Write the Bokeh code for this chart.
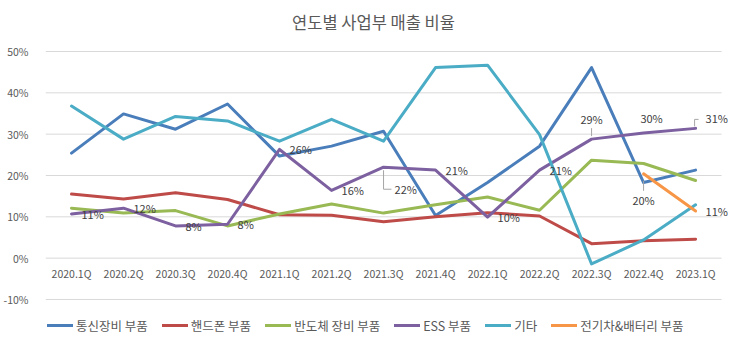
from bokeh.plotting import figure
from bokeh.models import Legend, LegendItem, FixedTicker, PrintfTickFormatter, Range1d
from bokeh.core.properties import value
from bokeh.embed import file_html
from bokeh.resources import INLINE

# ---------------- data ----------------
quarters = ["2020.1Q", "2020.2Q", "2020.3Q", "2020.4Q", "2021.1Q", "2021.2Q", "2021.3Q",
            "2021.4Q", "2022.1Q", "2022.2Q", "2022.3Q", "2022.4Q", "2023.1Q"]
telecom = [25.4, 34.9, 31.2, 37.3, 24.7, 27.1, 30.7, 10.3, 18.3, 27.1, 46.1, 18.3, 21.3]
handset = [15.5, 14.3, 15.8, 14.2, 10.5, 10.4, 8.8, 10.0, 11.0, 10.2, 3.5, 4.2, 4.6]
semicon = [12.1, 10.9, 11.5, 7.8, 10.7, 13.1, 10.9, 12.9, 14.8, 11.6, 23.7, 22.9, 18.8]
ess = [10.7, 12.1, 7.8, 8.2, 26.3, 16.4, 22.0, 21.3, 9.9, 21.3, 28.8, 30.3, 31.4]
others = [36.8, 28.8, 34.3, 33.2, 28.3, 33.6, 28.3, 46.1, 46.7, 29.9, -1.4, 4.4, 12.9]
ev_quarters = ["2022.4Q", "2023.1Q"]
ev = [20.4, 11.4]
series_names = ["통신장비 부품", "핸드폰 부품", "반도체 장비 부품", "ESS 부품", "기타", "전기차&배터리 부품"]
y_ticks = [-10, 0, 10, 20, 30, 40, 50]
title_text = "연도별 사업부 매출 비율"

# ---------------- style ----------------
colors = ["#4a7ebb", "#be4b48", "#98b954", "#7d60a0", "#4bacc6", "#f79646"]
FONT = "Noto Sans CJK KR"
W, H = 732, 343
BORDER_L = 40
PLOT_W = 681                     # width of the category band area
Y0, Y1 = -20.65, 62.34
n = len(quarters)
xs = list(range(n))
ev_x = [quarters.index(q) for q in ev_quarters]

PX_X = PLOT_W / n                # pixels per category
PX_Y = H / (Y1 - Y0)             # pixels per percent
X_END = n - 0.5 + (W - BORDER_L - PLOT_W) / PX_X

p = figure(width=W, height=H, output_backend="svg", toolbar_location=None,
           x_range=Range1d(-0.5, X_END), y_range=Range1d(Y0, Y1),
           min_border_left=BORDER_L, min_border_right=0,
           min_border_top=0, min_border_bottom=0)
p.outline_line_color = None
p.background_fill_color = "white"
p.border_fill_color = "white"

p.xaxis.visible = False
p.xgrid.visible = False
p.ygrid.visible = False
p.yaxis.ticker = FixedTicker(ticks=y_ticks)
p.yaxis.formatter = PrintfTickFormatter(format="%d%%")
p.yaxis.axis_line_color = None
p.yaxis.major_tick_line_color = None
p.yaxis.minor_tick_line_color = None
p.yaxis.major_label_standoff = 11
p.yaxis.major_label_text_font = FONT
p.yaxis.major_label_text_font_size = "10.5px"
p.yaxis.major_label_text_color = "#595959"

# horizontal grid lines spanning only the category area
p.segment(x0=[-0.5] * len(y_ticks), x1=[n - 0.5] * len(y_ticks), y0=y_ticks, y1=y_ticks,
          line_color="#d9d9d9", line_width=1)

# title (drawn as text at the top of the canvas)
p.text(x=[(n - 1) / 2], y=[Y1], text=[title_text], x_offset=-10, y_offset=21,
       text_align="center", text_baseline="middle", text_font=value(FONT),
       text_font_size="16.5px", text_color="#595959")

# category labels along the 0% line
p.text(x=xs, y=[0] * n, text=quarters, y_offset=15, text_align="center", text_baseline="middle",
       text_font=value(FONT), text_font_size="10.5px", text_color="#595959")

renderers = []
for vx, vals, c in zip([xs, xs, xs, xs, xs, ev_x],
                       [telecom, handset, semicon, ess, others, ev], colors):
    renderers.append(p.line(vx, vals, line_color=c, line_width=3,
                            line_join="round", line_cap="round"))

# ---------------- data labels ----------------
def fmt(v):
    return f"{int(v + 0.5)}%"

# (index, align, dx_px, dy_px) with dy positive = down
ess_place = [(i, "left", 10, 0) for i in range(n)]
ess_place[6] = (6, "left", 11, 22)
ess_place[10] = (10, "center", 0, -20)
ess_place[11] = (11, "center", 8, -15)
ess_place[12] = (12, "left", 10, -10)
ev_place = [(0, "center", 0, 26), (1, "left", 10, 0)]

def draw_labels(xv, vals, places):
    for i, align, dx, dy in places:
        p.text(x=[xv[i]], y=[vals[i]], text=[fmt(vals[i])], x_offset=dx, y_offset=dy,
               text_align=align, text_baseline="middle", text_font=value(FONT),
               text_font_size="11px", text_color="#404040")

draw_labels(xs, ess, ess_place)
draw_labels(ev_x, ev, ev_place)

# leader lines (pixel offsets from the point, dy positive = down)
def leader(xc, v, pts):
    lx = [xc + dx / PX_X for dx, dy in pts]
    ly = [v - dy / PX_Y for dx, dy in pts]
    p.line(lx, ly, line_color="#a6a6a6", line_width=1)

leader(xs[6], ess[6], [(0, 3), (0, 22), (8, 22)])
leader(xs[10], ess[10], [(0, -3), (0, -11)])
leader(xs[12], ess[12], [(-1, -2), (-1, -9), (3, -9)])
leader(ev_x[0], ev[0], [(0, 7), (0, 17)])

legend = Legend(items=[LegendItem(label=nm, renderers=[r]) for nm, r in zip(series_names, renderers)],
                orientation="horizontal", location=(2, 8),
                glyph_width=26, glyph_height=20, label_height=20, label_standoff=3, spacing=14,
                padding=0, margin=0, border_line_color=None, background_fill_alpha=0,
                label_text_font=FONT, label_text_font_size="12.5px", label_text_color="#595959")
p.add_layout(legend)

open("out.html", "w").write(file_html(p, INLINE))
